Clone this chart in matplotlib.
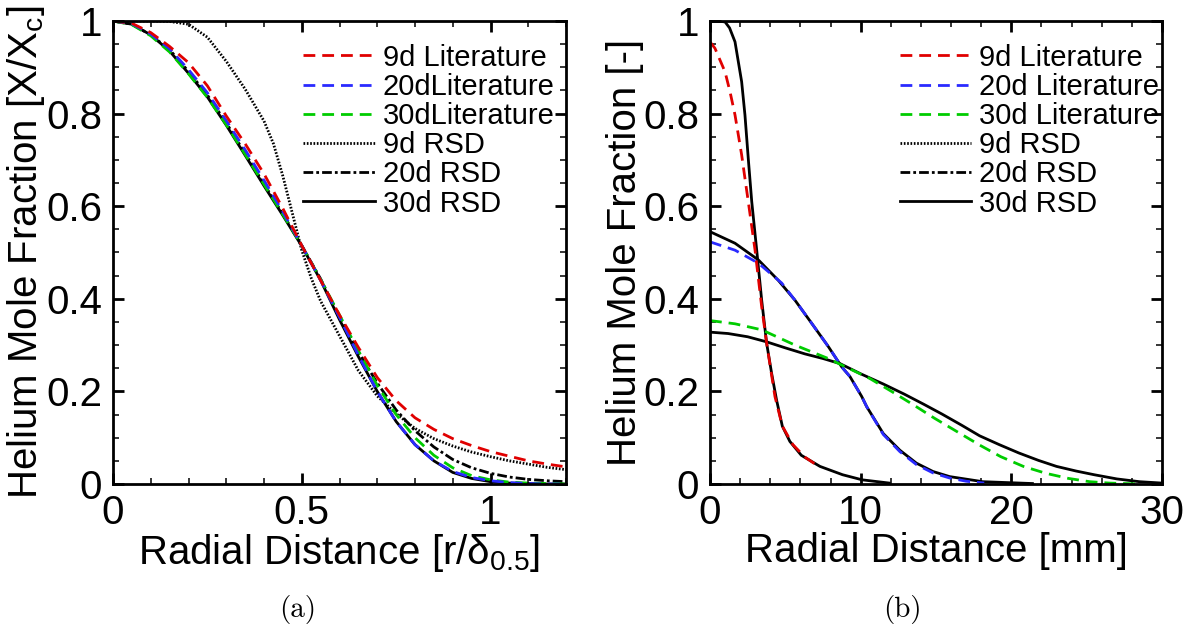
import matplotlib
matplotlib.use("Agg")
import matplotlib.pyplot as plt
from matplotlib.lines import Line2D
from matplotlib.ticker import MultipleLocator, FormatStrFormatter

plt.rcParams['font.family'] = ['Liberation Sans', 'DejaVu Sans']
plt.rcParams['mathtext.fontset'] = 'custom'
plt.rcParams['mathtext.rm'] = 'Liberation Sans'
plt.rcParams['mathtext.it'] = 'Liberation Sans'
plt.rcParams['mathtext.default'] = 'regular'
plt.rcParams['lines.scale_dashes'] = False

# ---------------- Panel (a): normalized profiles ----------------
a_x = [0, 0.05, 0.1, 0.15, 0.2, 0.25, 0.3, 0.35, 0.4, 0.45, 0.5, 0.55, 0.6,
       0.65, 0.7, 0.75, 0.8, 0.85, 0.9, 0.95, 1.0, 1.05, 1.1, 1.15, 1.2]
a_lit9 = [1.0, 0.995, 0.975, 0.945, 0.91, 0.86, 0.795, 0.735, 0.67, 0.595, 0.515,
          0.44, 0.365, 0.295, 0.23, 0.18, 0.143, 0.118, 0.098, 0.083, 0.07, 0.06,
          0.05, 0.043, 0.037]
a_lit20 = [1.0, 0.994, 0.972, 0.94, 0.895, 0.845, 0.785, 0.722, 0.656, 0.588, 0.515,
           0.44, 0.36, 0.278, 0.2, 0.135, 0.085, 0.05, 0.027, 0.014, 0.007, 0.003,
           0.001, 0.0, 0.0]
a_lit30 = [1.0, 0.992, 0.968, 0.933, 0.886, 0.835, 0.776, 0.712, 0.647, 0.582, 0.515,
           0.442, 0.365, 0.288, 0.213, 0.15, 0.1, 0.062, 0.035, 0.018, 0.009, 0.004,
           0.002, 0.001, 0.0]
a_rsd9_x = [0, 0.05, 0.1, 0.15, 0.2, 0.25, 0.3, 0.35, 0.4, 0.425, 0.45, 0.475, 0.5,
            0.525, 0.55, 0.6, 0.65, 0.7, 0.75, 0.8, 0.85, 0.9, 0.95, 1.0, 1.05,
            1.1, 1.15, 1.2]
a_rsd9 = [1.0, 1.0, 1.0, 0.999, 0.993, 0.965, 0.913, 0.853, 0.784, 0.735, 0.665,
          0.585, 0.505, 0.445, 0.395, 0.32, 0.245, 0.19, 0.152, 0.12, 0.098, 0.082,
          0.069, 0.059, 0.05, 0.043, 0.036, 0.031]
a_rsd20 = [1.0, 0.993, 0.97, 0.938, 0.891, 0.84, 0.78, 0.714, 0.648, 0.583, 0.515,
           0.443, 0.36, 0.285, 0.218, 0.16, 0.115, 0.08, 0.053, 0.035, 0.023, 0.015,
           0.01, 0.007, 0.005]
a_rsd30 = [1.0, 0.993, 0.97, 0.935, 0.887, 0.836, 0.775, 0.71, 0.644, 0.58, 0.514,
           0.44, 0.355, 0.275, 0.2, 0.135, 0.085, 0.05, 0.025, 0.012, 0.005, 0.002,
           0.001, 0.0, 0.0]

# ---------------- Panel (b): dimensional profiles ----------------
b_lit9_r = [0, 0.33, 1.0, 1.33, 1.66, 1.88, 2.1, 2.32, 2.54, 2.99, 3.43, 3.76, 4.31,
            4.8, 5.5, 6.3, 7.3]
b_lit9 = [0.955, 0.941, 0.89, 0.847, 0.797, 0.754, 0.711, 0.66, 0.61, 0.505, 0.383,
          0.304, 0.189, 0.125, 0.085, 0.058, 0.036]
b_lit20_r = [0, 1.66, 3.21, 4.76, 5.64, 6.75, 7.85, 8.74, 9.29, 10.07, 10.4, 11.5,
             12.6, 13.7, 14.8, 15.9, 17.0, 18.2]
b_lit20 = [0.523, 0.505, 0.477, 0.434, 0.397, 0.347, 0.297, 0.253, 0.232, 0.189,
           0.167, 0.107, 0.07, 0.042, 0.024, 0.013, 0.006, 0.002]
b_lit30_r = [0, 1.66, 3.43, 5.64, 7.85, 8.74, 10.6, 12.05, 13.5, 14.9, 16.4, 17.9,
             19.3, 20.8, 22.3, 23.8, 25.2, 26.5, 28.5]
b_lit30 = [0.353, 0.346, 0.333, 0.30, 0.271, 0.257, 0.228, 0.2, 0.171, 0.142, 0.113,
           0.084, 0.059, 0.038, 0.023, 0.012, 0.005, 0.002, 0.0]
b_rsd9_r = [0, 0.5, 1.0, 1.3, 1.66, 2.1, 2.32, 2.54, 2.77, 3.1, 3.43, 3.76, 4.09,
            4.42, 4.8, 5.3, 6.06, 7.3, 8.8, 10.1, 11.9]
b_rsd9 = [1.0, 1.0, 0.998, 0.985, 0.955, 0.869, 0.797, 0.703, 0.61, 0.505, 0.397,
          0.304, 0.239, 0.181, 0.125, 0.092, 0.062, 0.038, 0.02, 0.009, 0.002]
b_rsd20_r = [0, 1.66, 3.21, 4.53, 5.64, 6.75, 7.85, 8.74, 9.29, 10.07, 10.4, 11.5,
             12.6, 13.7, 14.8, 15.9, 18.1, 21.4]
b_rsd20 = [0.545, 0.52, 0.484, 0.44, 0.397, 0.347, 0.297, 0.253, 0.232, 0.189, 0.167,
           0.109, 0.073, 0.045, 0.027, 0.016, 0.005, 0.001]
b_rsd30_r = [0, 1.2, 2.5, 3.76, 5.0, 6.3, 7.5, 8.63, 10.0, 11.5, 12.9, 14.2, 15.4,
             16.7, 17.9, 19.2, 20.5, 21.8, 23.0, 24.3, 25.5, 27.0, 28.5, 30.0]
b_rsd30 = [0.328, 0.325, 0.318, 0.307, 0.294, 0.281, 0.271, 0.26, 0.238, 0.216,
           0.194, 0.172, 0.151, 0.127, 0.104, 0.085, 0.067, 0.051, 0.038, 0.028,
           0.02, 0.011, 0.005, 0.002]

labels_a = ['9d Literature', '20dLiterature', '30dLiterature', '9d RSD', '20d RSD', '30d RSD']
labels_b = ['9d Literature', '20d Literature', '30d Literature', '9d RSD', '20d RSD', '30d RSD']

RED, BLUE, GREEN = '#e00000', '#2a2aff', '#00cc00'
DASH = (0, (8.5, 5.0))
DOT = (0, (1.2, 1.2))
DASHDOT = (0, (7.0, 2.2, 2.0, 2.2))

fig = plt.figure(figsize=(11.95, 6.30), dpi=100)
ax_a = fig.add_axes([113 / 1195, 146 / 630, 453 / 1195, 463 / 630])
ax_b = fig.add_axes([710 / 1195, 146 / 630, 452 / 1195, 463 / 630])

LW = 2.0
# panel a
ax_a.plot(a_x, a_rsd30, color='black', lw=LW, ls='-')
ax_a.plot(a_x, a_rsd20, color='black', lw=LW, ls=DASHDOT)
ax_a.plot(a_rsd9_x, a_rsd9, color='black', lw=LW, ls=DOT)
ax_a.plot(a_x, a_lit30, color=GREEN, lw=LW, ls=DASH)
ax_a.plot(a_x, a_lit20, color=BLUE, lw=LW, ls=DASH)
ax_a.plot(a_x, a_lit9, color=RED, lw=LW, ls=DASH)

# panel b (RSD curves drawn solid)
ax_b.plot(b_rsd9_r, b_rsd9, color='black', lw=LW, ls='-')
ax_b.plot(b_rsd20_r, b_rsd20, color='black', lw=LW, ls='-')
ax_b.plot(b_rsd30_r, b_rsd30, color='black', lw=LW, ls='-')
ax_b.plot(b_lit9_r, b_lit9, color=RED, lw=LW, ls=DASH)
ax_b.plot(b_lit20_r, b_lit20, color=BLUE, lw=LW, ls=DASH)
ax_b.plot(b_lit30_r, b_lit30, color=GREEN, lw=LW, ls=DASH)


def handles():
    return [Line2D([], [], color=RED, lw=LW, ls=DASH),
            Line2D([], [], color=BLUE, lw=LW, ls=DASH),
            Line2D([], [], color=GREEN, lw=LW, ls=DASH),
            Line2D([], [], color='black', lw=LW, ls=DOT),
            Line2D([], [], color='black', lw=LW, ls=DASHDOT),
            Line2D([], [], color='black', lw=LW, ls='-')]


for ax, labs, xmax, xmaj, xmin in [(ax_a, labels_a, 1.2, 0.5, 0.1),
                                   (ax_b, labels_b, 30, 10, 2)]:
    ax.set_xlim(0, xmax)
    ax.set_ylim(0, 1)
    ax.xaxis.set_major_locator(MultipleLocator(xmaj))
    ax.xaxis.set_minor_locator(MultipleLocator(xmin))
    ax.yaxis.set_major_locator(MultipleLocator(0.2))
    ax.yaxis.set_minor_locator(MultipleLocator(0.05))
    ax.xaxis.set_major_formatter(FormatStrFormatter('%g'))
    ax.yaxis.set_major_formatter(FormatStrFormatter('%g'))
    ax.tick_params(which='both', direction='in', top=True, right=True)
    ax.tick_params(which='major', length=8, width=2, labelsize=29)
    ax.tick_params(which='minor', length=4.3, width=1.1)
    ax.tick_params(axis='x', which='major', pad=7)
    ax.tick_params(axis='y', which='major', pad=8)
    for s in ax.spines.values():
        s.set_linewidth(2)
    ax.legend(handles(), labs, loc='upper left', bbox_to_anchor=(0.42, 0.951),
              frameon=False, fontsize=21, handlelength=2.45, handletextpad=0.28,
              labelspacing=0.04, borderpad=0, borderaxespad=0)

ax_a.set_xlabel('Radial Distance [r/δ$_{0.5}$]', fontsize=29, labelpad=0)
ax_a.set_ylabel('Helium Mole Fraction [X/X$_{c}$]', fontsize=29, labelpad=-1)
ax_b.set_xlabel('Radial Distance [mm]', fontsize=29, labelpad=0)
ax_b.set_ylabel('Helium Mole Fraction [-]', fontsize=29, labelpad=-1)

fig.text(298 / 1195, 1 - 609 / 630, '(a)', family='cmr10', fontsize=21,
         ha='center', va='center')
fig.text(902 / 1195, 1 - 609 / 630, '(b)', family='cmr10', fontsize=21,
         ha='center', va='center')

fig.savefig('out.png', dpi=100)
